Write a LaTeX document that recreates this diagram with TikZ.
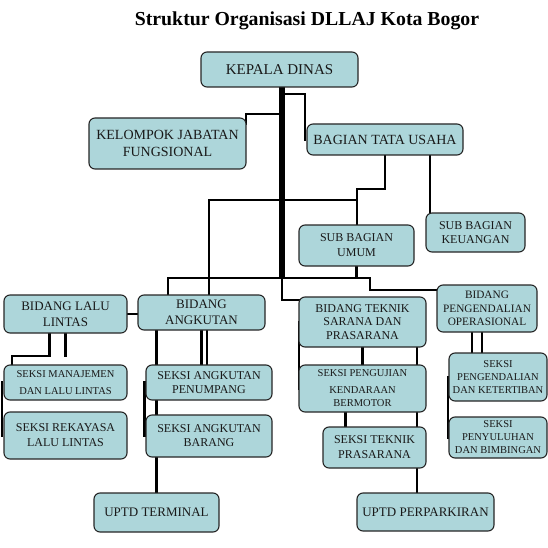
\documentclass[tikz,border=0pt]{standalone}
\usepackage{fontspec}
\setmainfont{Liberation Serif}
\usetikzlibrary{backgrounds}
\definecolor{boxteal}{HTML}{ADD6DA}

\begin{document}
\begin{tikzpicture}[x=1pt, y=-1pt,
    box/.style={draw=black!85, line width=1.1pt, rounded corners=6pt, fill=boxteal, text=black!90, align=center, inner sep=1pt, outer sep=0pt},
    conn/.style={line width=2.8pt, line cap=rect, black},
    trunk/.style={line width=5.5pt, black}]
  \useasboundingbox (0,0) rectangle (548,548);

  \node[font=\fontsize{19.8}{23}\selectfont\bfseries] (title) at (307,21) {Struktur Organisasi DLLAJ Kota Bogor};

  % kotak
  \node[box, minimum width=157pt, minimum height=35pt, font=\fontsize{15}{18}\selectfont] (KD) at (279.5,69.5) {KEPALA DINAS};
  \node[box, minimum width=157pt, minimum height=51pt, font=\fontsize{14}{17}\selectfont] (KJF) at (167.5,143.5) {KELOMPOK JABATAN\\FUNGSIONAL};
  \node[box, minimum width=156pt, minimum height=31pt, font=\fontsize{14}{17}\selectfont] (BTU) at (385,139.5) {BAGIAN TATA USAHA};
  \node[box, minimum width=115pt, minimum height=41pt, font=\fontsize{12}{15}\selectfont] (SBU) at (356.5,245.5) {SUB BAGIAN\\UMUM};
  \node[box, minimum width=99pt, minimum height=39pt, font=\fontsize{12}{13.5}\selectfont] (SBK) at (475.5,232.5) {SUB BAGIAN\\KEUANGAN};
  \node[box, minimum width=123pt, minimum height=38pt, font=\fontsize{13}{16}\selectfont] (BLL) at (65.5,314) {BIDANG LALU\\LINTAS};
  \node[box, minimum width=127pt, minimum height=35pt, font=\fontsize{13}{16}\selectfont] (BA) at (201.5,312.5) {BIDANG\\ANGKUTAN};
  \node[box, minimum width=127pt, minimum height=50pt, font=\fontsize{12}{13.5}\selectfont] (BTSP) at (362.5,322) {BIDANG TEKNIK\\SARANA DAN\\PRASARANA};
  \node[box, minimum width=100pt, minimum height=47pt, font=\fontsize{11.3}{13.5}\selectfont] (BPO) at (487,308.5) {BIDANG\\PENGENDALIAN\\OPERASIONAL};
  \node[box, minimum width=123pt, minimum height=35pt, font=\fontsize{10.5}{13}\selectfont] (SMLL) at (65.5,382.5) {SEKSI MANAJEMEN\\[4pt]DAN LALU LINTAS};
  \node[box, minimum width=123pt, minimum height=47pt, font=\fontsize{12}{15}\selectfont] (SRLL) at (65.5,435.5) {SEKSI REKAYASA\\LALU LINTAS};
  \node[box, minimum width=126pt, minimum height=35pt, font=\fontsize{12}{13.5}\selectfont] (SAP) at (209,382.5) {SEKSI ANGKUTAN\\PENUMPANG};
  \node[box, minimum width=126pt, minimum height=42pt, font=\fontsize{12}{14}\selectfont] (SAB) at (209,436) {SEKSI ANGKUTAN\\BARANG};
  \node[box, minimum width=127pt, minimum height=47pt, font=\fontsize{10.5}{13}\selectfont] (SPKB) at (362.5,388.5) {SEKSI PENGUJIAN\\[4pt]KENDARAAN\\BERMOTOR};
  \node[box, minimum width=103pt, minimum height=41pt, font=\fontsize{12}{15}\selectfont] (STP) at (374.5,447.5) {SEKSI TEKNIK\\PRASARANA};
  \node[box, minimum width=98pt, minimum height=48pt, font=\fontsize{10.5}{13}\selectfont] (SPDK) at (498,377) {SEKSI\\PENGENDALIAN\\DAN KETERTIBAN};
  \node[box, minimum width=98pt, minimum height=41pt, font=\fontsize{10.5}{13}\selectfont] (SPDB) at (498,437.5) {SEKSI\\PENYULUHAN\\DAN BIMBINGAN};
  \node[box, minimum width=125pt, minimum height=39pt, font=\fontsize{13}{16}\selectfont] (UT) at (156.5,512.5) {UPTD TERMINAL};
  \node[box, minimum width=137pt, minimum height=38pt, font=\fontsize{13}{16}\selectfont] (UP) at (425.5,512) {UPTD PERPARKIRAN};

  % titik sambung
  \coordinate (top) at ([xshift=2.5pt]KD.south);
  \coordinate (j1) at (282,114);
  \coordinate (j2) at (282,94);
  \coordinate (j3) at (357,189);
  \coordinate (j4) at (209,200);
  \coordinate (b1) at (168,278);
  \coordinate (b2) at (370,278);
  \coordinate (l1) at (12,356);
  \coordinate (k1) at ([xshift=4pt]SBK.north west);
  \coordinate (a1) at ([xshift=5.5pt]BA.south);
  \coordinate (p1) at ([xshift=-9pt]BTSP.south east);
  \coordinate (p2) at ([xshift=-17pt]SPKB.south);
  \coordinate (q1) at ([xshift=-15pt]BPO.south);
  \coordinate (q2) at ([xshift=-5pt]BPO.south);

  % garis penghubung
  \begin{scope}[on background layer]
    \draw[trunk] (top) -- (top |- b1);
    \draw[conn] (top |- b1) |- ([yshift=-3pt]BTSP.north west);
    \draw[conn] (j1) -| ([yshift=-6pt]KJF.north east);
    \draw[conn] (j2) -| ([xshift=-2pt]BTU.west);
    \draw[conn] (BTU.south) |- (j3) -- (j3 |- SBU.north);
    \draw[conn] (k1) -- (k1 |- BTU.south);
    \draw[conn] (j4) -- (j4 -| j3);
    \draw[conn] (j4) -- (j4 |- BA.north);
    \draw[conn] (b1) -- (b2);
    \draw[conn] (b1) -- (b1 |- BA.north);
    \draw[conn] (SBU.south) -- (SBU.south |- b2);
    \draw[conn] (b2) |- ([yshift=-5pt]BPO.north west);
    \draw[conn] (BLL.east) -- (BLL.east -| BA.west);
    \draw[conn] ([xshift=-16pt]BLL.south) |- (l1) -- (l1 |- SMLL.north);
    \draw[conn] (BLL.south) -- (BLL.south |- l1);
    \draw[conn] ([xshift=-2pt]SMLL.west) -- ([xshift=-2pt]SRLL.west);
    \draw[conn] (BA.south) -- (BA.south |- SAP.north);
    \draw[conn] (a1) -- (a1 |- SAP.north);
    \draw[conn] (UT.north |- BA.south) -- (UT.north |- SAB.north);
    \draw[conn] (UT.north) -- (UT.north |- SAB.south);
    \draw[conn] ([xshift=-1.5pt]SAP.west) -- ([xshift=-1.5pt]SAB.west);
    \draw[conn] (BTSP.west) -- (SPKB.west);
    \draw[conn] (BTSP.south) -- (SPKB.north);
    \draw[conn] (p1) -- (p1 |- STP.north);
    \draw[conn] (p2) -- (p2 |- STP.north);
    \draw[conn] (p1 |- STP.south) -- (p1 |- UP.north);
    \draw[conn] (q1) -- (q1 |- SPDK.north);
    \draw[conn] (q2) -- (q2 |- SPDK.north);
    \draw[conn] ([xshift=-1pt]SPDK.west) -- ([xshift=-1pt]SPDB.west);
  \end{scope}
\end{tikzpicture}
\end{document}
